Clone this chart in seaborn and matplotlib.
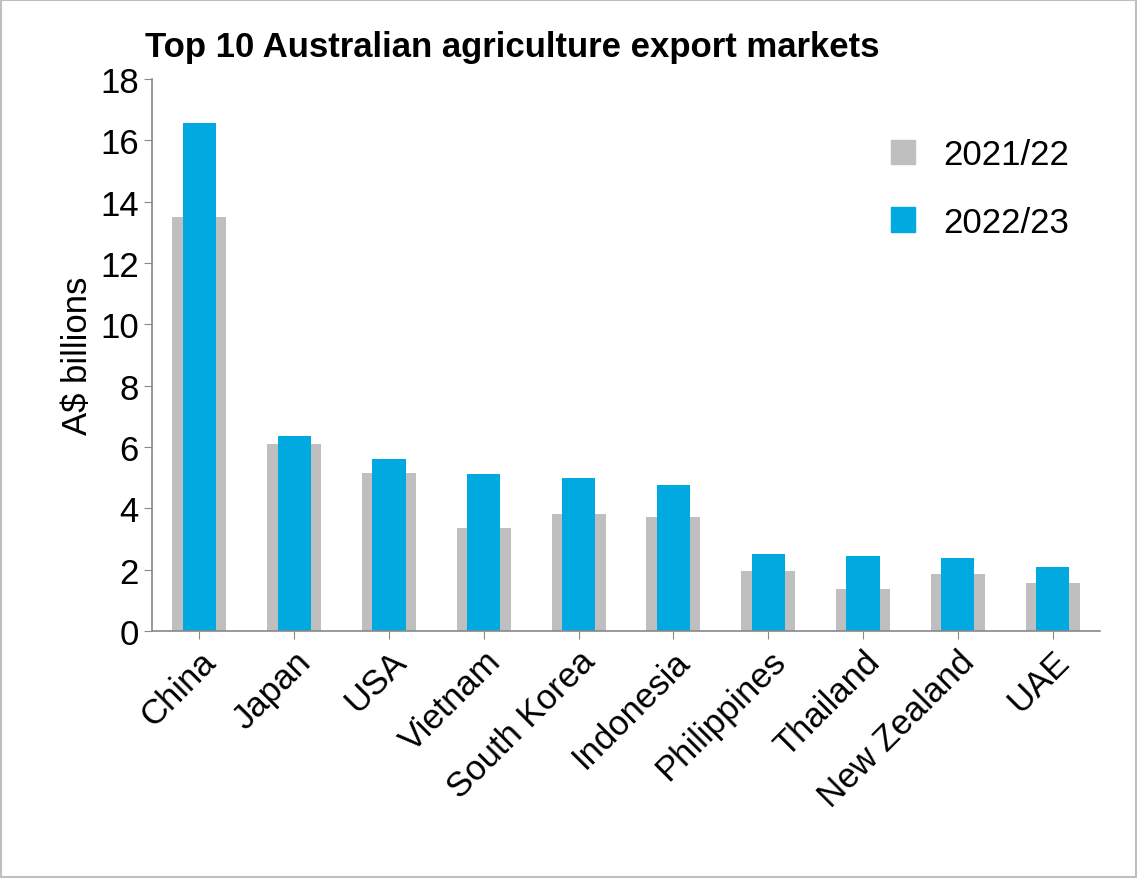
import matplotlib
matplotlib.use("Agg")
import matplotlib.pyplot as plt
import seaborn as sns
import pandas as pd
from matplotlib.patches import Patch

markets = ['China', 'Japan', 'USA', 'Vietnam', 'South Korea', 'Indonesia',
           'Philippines', 'Thailand', 'New Zealand', 'UAE']
exports_2122 = [13.5, 6.1, 5.15, 3.35, 3.82, 3.72, 1.95, 1.38, 1.85, 1.55]
exports_2223 = [16.57, 6.37, 5.62, 5.13, 5.0, 4.77, 2.5, 2.44, 2.38, 2.1]

grey = "#BFBFBF"
blue = "#00A9E0"

sns.set_style("white")
plt.rcParams['font.family'] = 'Liberation Sans'
plt.rcParams['text.color'] = 'black'
plt.rcParams['axes.labelcolor'] = 'black'
plt.rcParams['xtick.color'] = 'black'
plt.rcParams['ytick.color'] = 'black'

df = pd.DataFrame({'Market': markets, 'y2122': exports_2122, 'y2223': exports_2223})

fig = plt.figure(figsize=(11.37, 8.79), dpi=100)
ax = fig.add_axes([152/1137, 1 - 632/879, (1100-152)/1137, (632-80)/879])

sns.barplot(data=df, x='Market', y='y2122', color=grey, width=0.57, saturation=1,
            linewidth=0, ax=ax)
sns.barplot(data=df, x='Market', y='y2223', color=blue, width=0.35, saturation=1,
            linewidth=0, ax=ax)

ax.set_ylim(0, 18)
ax.set_yticks(range(0, 19, 2))
ax.set_xlim(-0.5, len(markets) - 0.5)
ax.set_xlabel('')
ax.set_ylabel('A$ billions', fontsize=25)
ax.tick_params(axis='y', labelsize=25, length=6, color='#888888', direction='out', left=True)
ax.tick_params(axis='x', labelsize=25, length=6, color='#888888', direction='out', bottom=True)
ax.set_xticks(range(len(markets)))
ax.set_xticklabels(markets, rotation=45, ha='right', rotation_mode='anchor')
for s in ['top', 'right']:
    ax.spines[s].set_visible(False)
for s in ['left', 'bottom']:
    ax.spines[s].set_color('#888888')
    ax.spines[s].set_linewidth(1.2)

handles = [Patch(color=grey, label='2021/22'), Patch(color=blue, label='2022/23')]
ax.legend(handles=handles, loc='upper right', frameon=False, fontsize=25,
          handlelength=0.7, handleheight=0.7, labelspacing=1.0,
          bbox_to_anchor=(1.0, 0.95))

fig.text(145/1137, 1 - 47/879, 'Top 10 Australian agriculture export markets',
         fontsize=25, fontweight='bold', va='center')

fig.patches.append(plt.Rectangle((0.001, 0.001), 0.998, 0.998, transform=fig.transFigure,
                                 fill=False, edgecolor='#BFBFBF', linewidth=1.5))

fig.savefig('out.png', dpi=100)
